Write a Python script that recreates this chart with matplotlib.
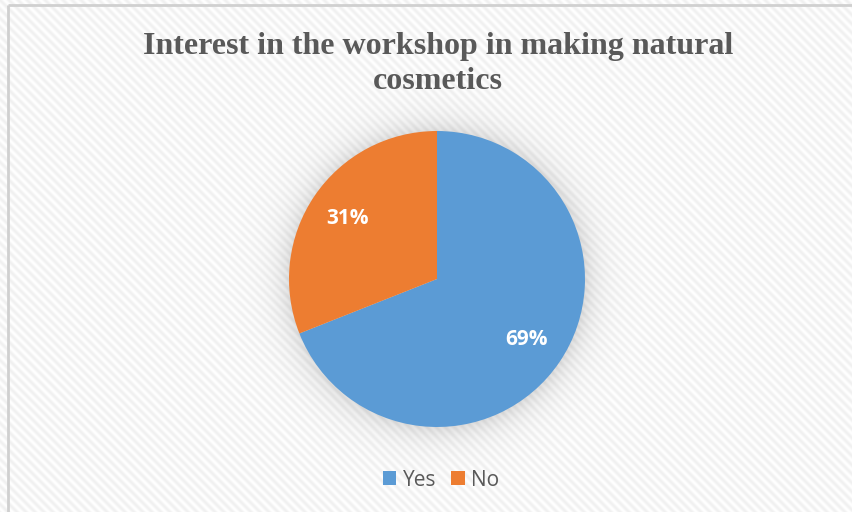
import numpy as np
import matplotlib
matplotlib.use("Agg")
import matplotlib.pyplot as plt

# Survey answers
labels = ["Yes", "No"]
shares = [69, 31]
colors = ["#5B9BD5", "#ED7D31"]
title = "Interest in the workshop in making natural\ncosmetics"

W, H = 853, 512
DPI = 100
fig = plt.figure(figsize=(W / DPI, H / DPI), dpi=DPI)

# Pie geometry in pixels (origin top-left)
cx, cy, r = 437.0, 279.0, 148.0

# Background: faint diagonal stripes plus a soft shadow around the pie
yy, xx = np.mgrid[0:H, 0:W].astype(float)
period = 9.0
phase = np.mod(xx - yy, period) / period
stripe = 0.5 + 0.5 * np.cos(2 * np.pi * phase)
base = 1.0 - 0.055 * stripe
d = np.hypot(xx - cx, yy - cy)
shadow = np.where(d > r, 0.12 * np.exp(-(d - r) / 14.0), 0.12)
img = np.clip(base * (1.0 - shadow), 0, 1)
rgb = np.dstack([img, img, img])

bg = fig.add_axes([0, 0, 1, 1])
bg.imshow(rgb, extent=[0, W, H, 0], interpolation="bilinear", aspect="auto")
bg.set_xlim(0, W)
bg.set_ylim(H, 0)
bg.axis("off")
# chart-area border (top and left edges visible)
bg.plot([8.5, W], [4.5, 4.5], color="#D0D0D0", lw=2, solid_capstyle="butt")
bg.plot([8.5, 8.5], [4.5, H], color="#D0D0D0", lw=2, solid_capstyle="butt")

# Pie axes sized so the radius matches
ax = fig.add_axes([(cx - r) / W, 1 - (cy + r) / H, 2 * r / W, 2 * r / H])
wedges, _ = ax.pie(shares, colors=colors, startangle=90, counterclock=False,
                   radius=1.0, wedgeprops=dict(linewidth=0))
ax.set_xlim(-1, 1)
ax.set_ylim(-1, 1)
ax.set_aspect("auto")
ax.axis("off")

# Data labels inside each slice
total = sum(shares)
label_r = 0.73
ang = 90.0
for val in shares:
    frac = val / total
    mid = np.deg2rad(ang - frac * 360 / 2)
    ax.text(label_r * np.cos(mid), label_r * np.sin(mid), f"{val}%",
            ha="center", va="center", color="white", fontsize=15,
            fontweight="bold", family="Open Sans")
    ang -= frac * 360

# Title
bg.text(438, 64, title, ha="center", va="center", color="#595959",
        fontsize=23, fontweight="bold", family="Liberation Serif",
        linespacing=1.3)

# Legend
leg = fig.legend(wedges, labels, loc="center",
                 bbox_to_anchor=(441 / W, 1 - 480 / H),
                 ncol=2, frameon=False, handlelength=0.65,
                 handleheight=0.65, handletextpad=0.3, columnspacing=0.72,
                 prop=dict(family="Open Sans", size=15))
for t in leg.get_texts():
    t.set_color("#595959")

fig.savefig("out.png", dpi=DPI)
